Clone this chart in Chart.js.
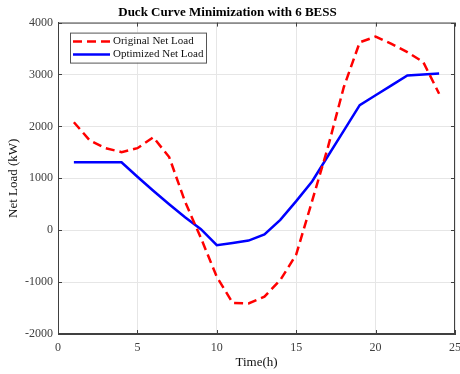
<!DOCTYPE html>
<html>
<head>
<meta charset="utf-8">
<script src="https://cdn.jsdelivr.net/npm/chart.js@4.4.1/dist/chart.umd.min.js"></script>
<style>
  body { margin: 0; background: #fff; }
  canvas { display: block; }
</style>
</head>
<body>
<canvas id="grafica" width="460" height="374"></canvas>
<script>
// Horas del dia (eje x)
const horas = [1, 2, 3, 4, 5, 6, 7, 8, 9, 10, 11, 12, 13, 14, 15, 16, 17, 18, 19, 20, 21, 22, 23, 24];
// Carga neta original (kW)
const cargaOriginal = [2080, 1730, 1580, 1505, 1580, 1790, 1410, 550, -150, -900, -1400, -1410, -1280, -960, -470, 560, 1600, 2760, 3620, 3730, 3590, 3430, 3240, 2630];
// Carga neta optimizada con 6 BESS (kW)
const cargaOptimizada = [1310, 1310, 1310, 1310, 1030, 760, 500, 250, 20, -290, -245, -200, -80, 200, 560, 940, 1430, 1920, 2410, 2600, 2790, 2980, 3000, 3020];
// Marcas de los ejes
const ticksX = [0, 5, 10, 15, 20, 25];
const ticksY = [-2000, -1000, 0, 1000, 2000, 3000, 4000];

const fuente = 'Liberation Serif, Times New Roman, serif';
const colorEje = '#404040';

// Convierte dos arrays en puntos {x, y}
function puntos(xs, ys) {
    return xs.map((x, i) => ({ x: x, y: ys[i] }));
}

// Caja completa, marcas hacia dentro y leyenda estilo MATLAB
const cajaMatlab = {
    id: 'cajaMatlab',
    afterDraw(chart) {
        const ctx = chart.ctx;
        const a = chart.chartArea;
        const sx = chart.scales.x;
        const sy = chart.scales.y;
        ctx.save();
        ctx.strokeStyle = colorEje;
        ctx.lineWidth = 1;
        ctx.strokeRect(a.left + 0.5, a.top + 0.5, a.right - a.left - 1, a.bottom - a.top - 1);
        ctx.beginPath();
        ticksX.forEach(v => {
            const px = Math.round(sx.getPixelForValue(v)) + 0.5;
            ctx.moveTo(px, a.bottom); ctx.lineTo(px, a.bottom - 4);
            ctx.moveTo(px, a.top); ctx.lineTo(px, a.top + 4);
        });
        ticksY.forEach(v => {
            const py = Math.round(sy.getPixelForValue(v)) + 0.5;
            ctx.moveTo(a.left, py); ctx.lineTo(a.left + 4, py);
            ctx.moveTo(a.right, py); ctx.lineTo(a.right - 4, py);
        });
        ctx.stroke();

        // Leyenda
        const lx = a.left + 12, ly = a.top + 10, lw = 136, lh = 30;
        ctx.fillStyle = '#fff';
        ctx.fillRect(lx, ly, lw, lh);
        ctx.strokeStyle = '#555';
        ctx.strokeRect(lx + 0.5, ly + 0.5, lw, lh);
        ctx.font = '11px ' + fuente;
        ctx.textBaseline = 'middle';
        chart.data.datasets.forEach((ds, i) => {
            const yy = ly + 9 + i * 13;
            ctx.strokeStyle = ds.borderColor;
            ctx.lineWidth = ds.borderWidth;
            ctx.setLineDash(ds.borderDash || []);
            ctx.beginPath();
            ctx.moveTo(lx + 3, yy); ctx.lineTo(lx + 40, yy);
            ctx.stroke();
            ctx.setLineDash([]);
            ctx.fillStyle = '#111';
            ctx.fillText(ds.label, lx + 43, yy);
        });
        ctx.restore();
    }
};

new Chart(document.getElementById('grafica'), {
    type: 'line',
    data: {
        datasets: [
            {
                label: 'Original Net Load',
                data: puntos(horas, cargaOriginal),
                borderColor: '#ff0000',
                borderWidth: 2.5,
                borderDash: [9, 5],
                pointRadius: 0,
                tension: 0,
                fill: false
            },
            {
                label: 'Optimized Net Load',
                data: puntos(horas, cargaOptimizada),
                borderColor: '#0000ff',
                borderWidth: 2.5,
                pointRadius: 0,
                tension: 0,
                fill: false
            }
        ]
    },
    options: {
        responsive: false,
        animation: false,
        layout: { padding: { left: 0, right: 5, top: 0, bottom: 0 } },
        plugins: {
            legend: { display: false },
            tooltip: { enabled: false },
            title: {
                display: true,
                text: 'Duck Curve Minimization with 6 BESS',
                color: '#000',
                font: { family: fuente, size: 13, weight: 'bold' },
                padding: { top: 5, bottom: 2 }
            }
        },
        scales: {
            x: {
                type: 'linear',
                min: 0,
                max: 25,
                afterBuildTicks(s) { s.ticks = ticksX.map(v => ({ value: v })); },
                ticks: { color: colorEje, font: { family: fuente, size: 12 }, padding: 7, maxRotation: 0, callback: v => String(v) },
                grid: { color: '#e6e6e6', drawTicks: false },
                border: { color: colorEje },
                title: { display: true, text: 'Time(h)', color: '#111', font: { family: fuente, size: 13 }, padding: { top: 0 } },
                afterFit(s) { s.height = 40; s.paddingRight = 0; s.paddingLeft = 0; }
            },
            y: {
                min: -2000,
                max: 4000,
                afterBuildTicks(s) { s.ticks = ticksY.map(v => ({ value: v })); },
                ticks: { color: colorEje, font: { family: fuente, size: 12 }, padding: 5, callback: v => String(v) },
                grid: { color: '#e6e6e6', drawTicks: false },
                border: { color: colorEje },
                title: { display: true, text: 'Net Load (kW)', color: '#111', font: { family: fuente, size: 13 }, padding: { top: 6, bottom: 6 } },
                afterFit(s) { s.width = 58; }
            }
        }
    },
    plugins: [cajaMatlab]
});
</script>
</body>
</html>
